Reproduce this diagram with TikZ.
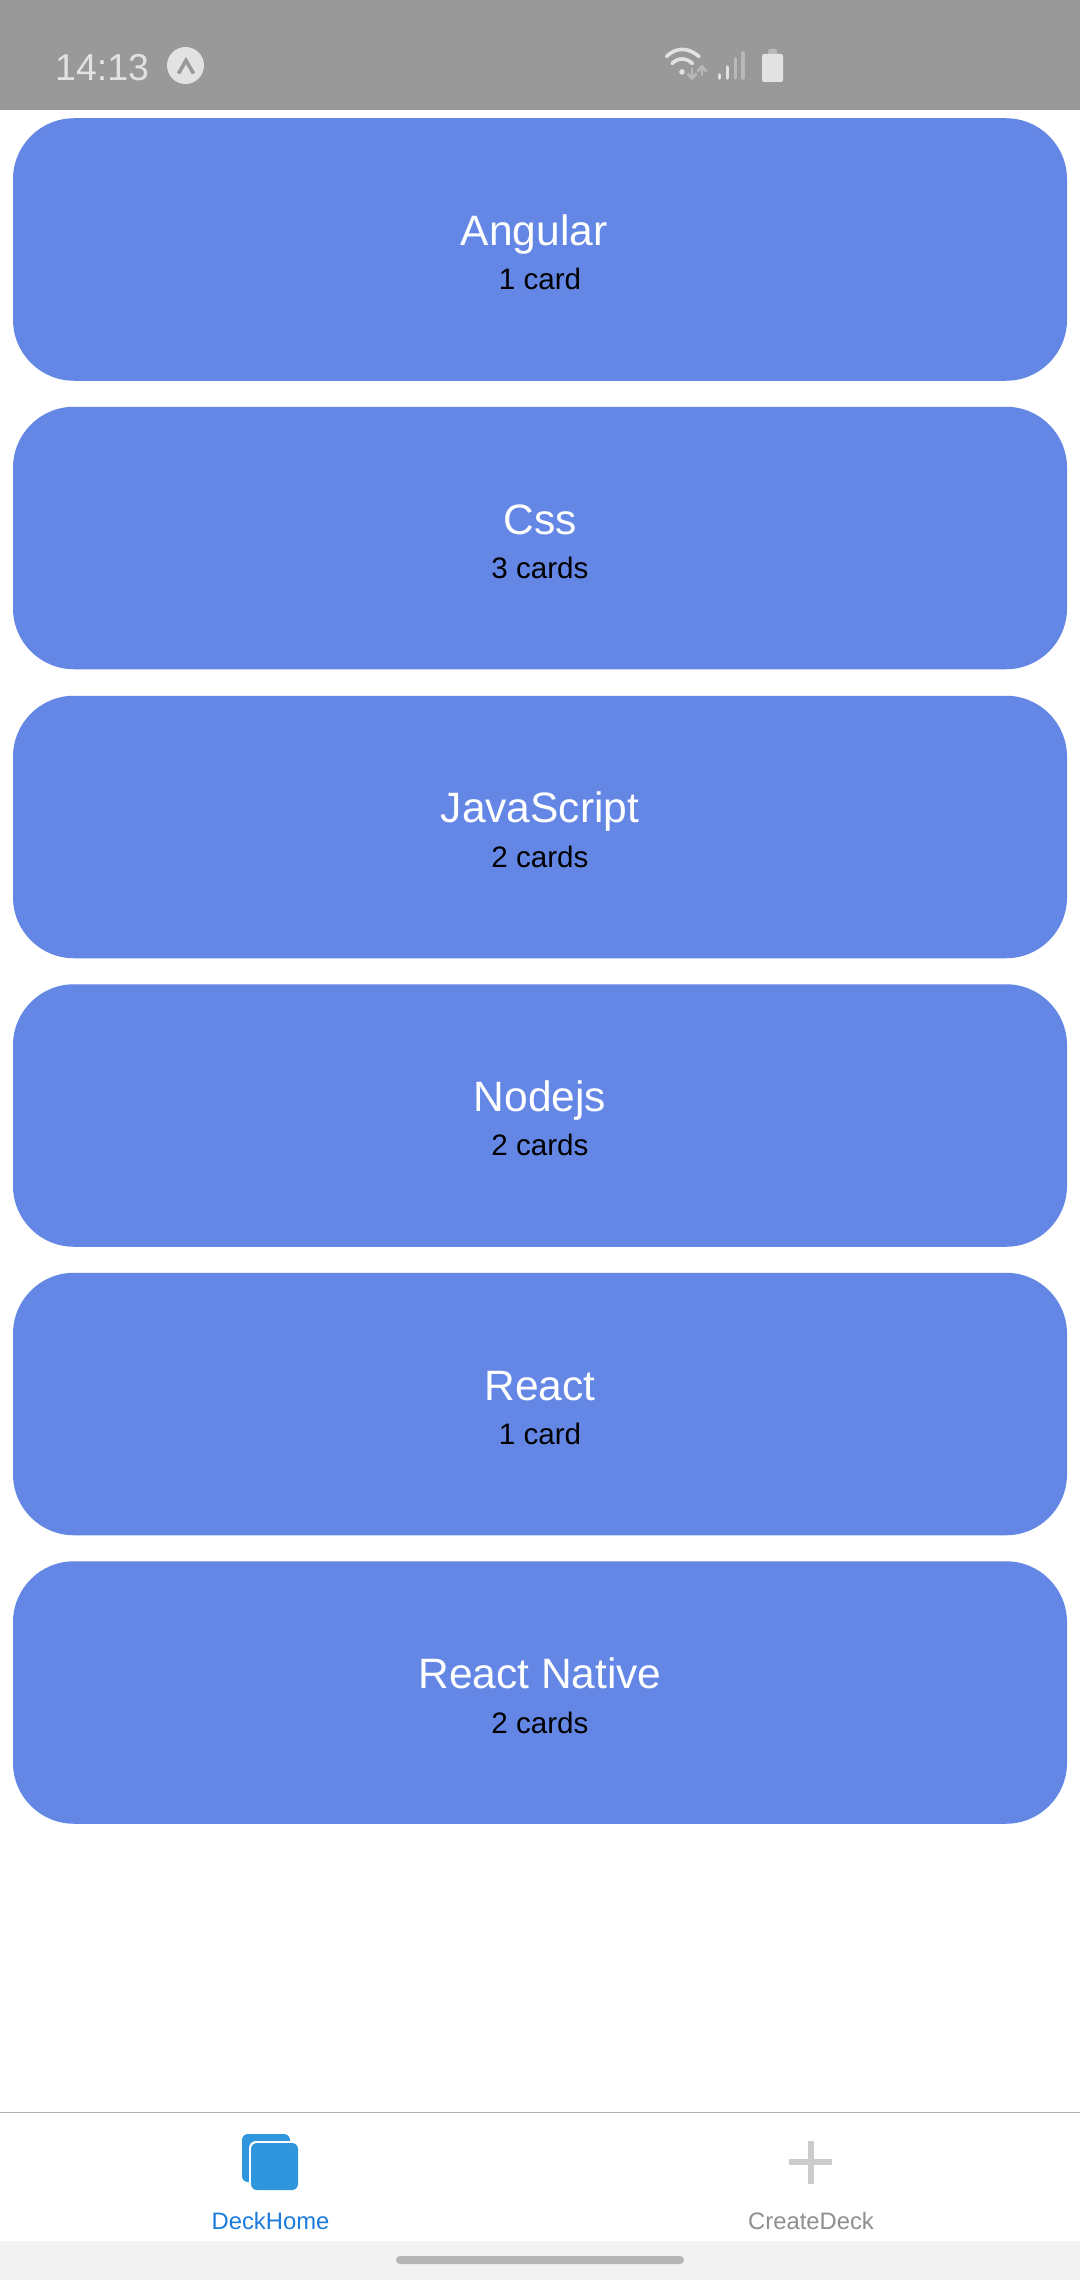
\documentclass[tikz,border=0pt]{standalone}
\usepackage{fontspec}
\setmainfont{Liberation Sans}
\definecolor{statusbg}{HTML}{999999}
\definecolor{statusfg}{HTML}{E2E2E2}
\definecolor{statusdim}{HTML}{B8B8B8}
\definecolor{cardblue}{HTML}{6487E6}
\definecolor{tabline}{HTML}{B2B2B2}
\definecolor{navbg}{HTML}{F2F2F2}
\definecolor{pill}{HTML}{B4B4B4}
\definecolor{iconblue}{HTML}{2F95DC}
\definecolor{activeblue}{HTML}{1A7BDC}
\definecolor{inactive}{HTML}{8E8E93}
\definecolor{plusgrey}{HTML}{CCCCCC}
\tikzset{
 x=1pt,y=-1pt,
 deckcard/.style={fill=cardblue,draw=none,rounded corners=61pt,minimum width=1054pt,minimum height=262.5pt,inner sep=0pt,outer sep=0pt},
 decktitle/.style={anchor=base,text=white,inner sep=0pt,font=\fontsize{42.5}{48}\selectfont},
 deckcount/.style={anchor=base,text=black,inner sep=0pt,font=\fontsize{29.6}{36}\selectfont},
 tablabel/.style={anchor=base,inner sep=0pt,font=\fontsize{23.8}{28}\selectfont},
 bar/.style={line width=3.6pt,line cap=round},
 wifi/.style={draw=statusfg,line width=3.6pt,line cap=round},
 tiny/.style={draw=statusdim,line width=2.8pt}
}
\begin{document}
\begin{tikzpicture}
\useasboundingbox (0,0) rectangle (1080,2280);
\fill[white] (0,0) rectangle (1080,2280);
% status bar
\fill[statusbg] (0,0) rectangle (1080,110);
\node[anchor=base west,inner sep=0pt,text=statusfg,font=\fontsize{37.5}{42}\selectfont] (clock) at (55,81) {14:13};
\node[circle,fill=statusfg,minimum size=37pt,inner sep=0pt] (expo) at (185.5,65.5) {};
\draw[statusbg,line width=3.6pt] (178.5,73.5) -- (186,60.5) -- (193.5,73.5);
% wifi
\fill[statusfg] (682,72) circle (2.8);
\draw[wifi] (666.5,56.5) .. controls (676,47) and (688,47) .. (699,56.5);
\draw[wifi] (672,63.5) .. controls (678,57.5) and (686,57.5) .. (692.5,63.5);
\draw[tiny] (692,68) -- (692,78);
\draw[tiny] (687.5,73.5) -- (692,78.5) -- (696.5,73.5);
\draw[tiny] (702,76.5) -- (702,67);
\draw[tiny] (697.5,71.5) -- (702,66.5) -- (706.5,71.5);
% signal
\draw[bar,statusfg] (719.5,75) -- (719.5,78);
\draw[bar,statusfg] (727.5,67) -- (727.5,78);
\draw[bar,statusdim] (735.5,59) -- (735.5,78);
\draw[bar,statusdim] (743,53) -- (743,78);
% battery
\fill[statusdim,rounded corners=1.5pt] (768,49) rectangle (777,56);
\fill[statusfg,rounded corners=2pt] (762,54) rectangle (783,82);
% cards
\node[deckcard] (c1) at (540,249.5) {};
\node[deckcard] (c2) at (540,538) {};
\node[deckcard] (c3) at (540,827) {};
\node[deckcard] (c4) at (540,1115.5) {};
\node[deckcard] (c5) at (540,1404) {};
\node[deckcard] (c6) at (540,1692.5) {};
\node[decktitle] (t1) at (534,245) {Angular};
\node[deckcount] (n1) at (540,289) {1 card};
\node[decktitle] (t2) at (540,534) {Css};
\node[deckcount] (n2) at (540,578) {3 cards};
\node[decktitle] (t3) at (540,822.5) {JavaScript};
\node[deckcount] (n3) at (540,867) {2 cards};
\node[decktitle] (t4) at (540,1111) {Nodejs};
\node[deckcount] (n4) at (540,1155) {2 cards};
\node[decktitle] (t5) at (540,1400) {React};
\node[deckcount] (n5) at (540,1444) {1 card};
\node[decktitle] (t6) at (540,1688.5) {React Native};
\node[deckcount] (n6) at (540,1733) {2 cards};
% tab bar
\fill[navbg] (0,2241) rectangle (1080,2280);
\draw[tabline,line width=1.5pt] (0,2112.5) -- (1080,2112.5);
\fill[pill,rounded corners=4pt] (396,2256) rectangle (684,2264);
% deck icon
\fill[iconblue,rounded corners=6pt] (242,2134) rectangle (290,2182);
\fill[white,rounded corners=7pt] (249,2141) rectangle (300,2192);
\fill[iconblue,rounded corners=6pt] (251,2143) rectangle (298,2190);
\node[tablabel,text=activeblue] (home) at (270.5,2229) {DeckHome};
% plus icon
\fill[plusgrey] (789,2159) rectangle (832,2165);
\fill[plusgrey] (807.5,2140.5) rectangle (813.5,2183.5);
\node[tablabel,text=inactive] (create) at (811,2229) {CreateDeck};
\end{tikzpicture}
\end{document}
